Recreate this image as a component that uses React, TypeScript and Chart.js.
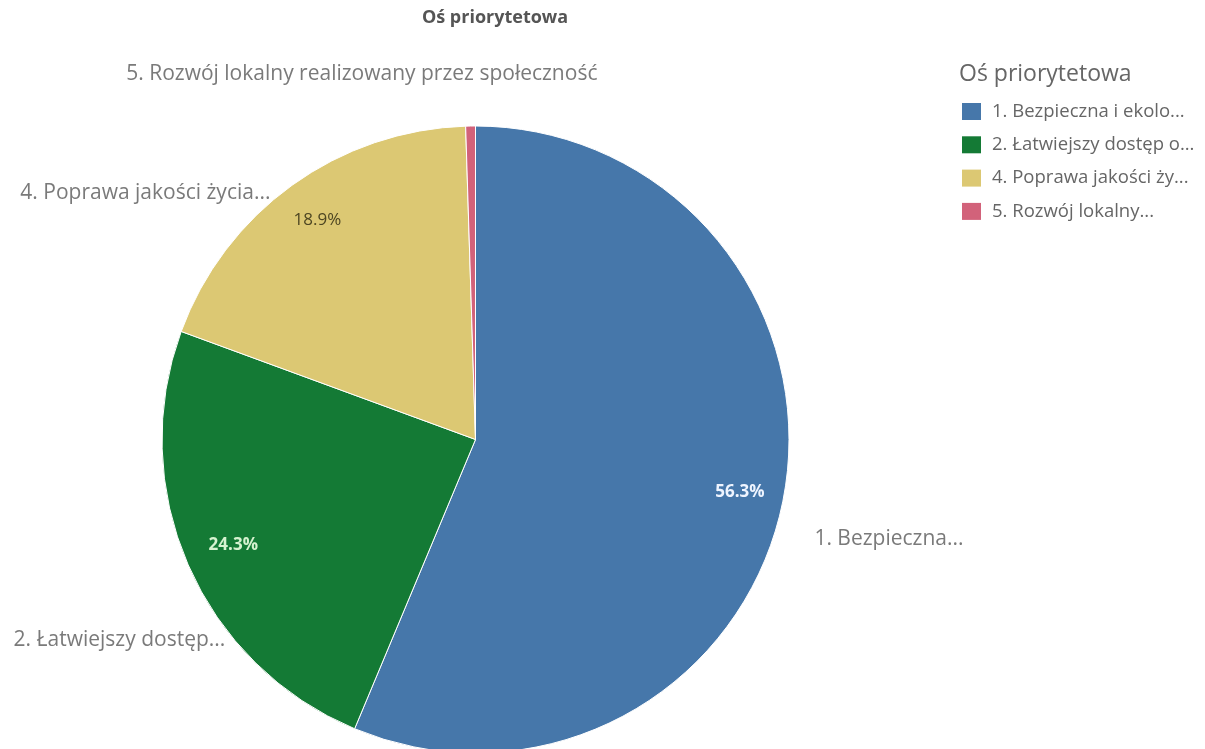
import React, { useEffect, useRef } from 'react';
import { Chart, registerables } from 'chart.js';

Chart.register(...registerables);

const chartTitle = 'Oś priorytetowa';
const legendTitle = 'Oś priorytetowa';
const values = [56.3, 24.3, 18.9, 0.5];
const sliceLabels = [
  '1. Bezpieczna...',
  '2. Łatwiejszy dostęp...',
  '4. Poprawa jakości życia...',
  '5. Rozwój lokalny realizowany przez społeczność',
];
const legendLabels = [
  '1. Bezpieczna i ekolo...',
  '2. Łatwiejszy dostęp o...',
  '4. Poprawa jakości ży...',
  '5. Rozwój lokalny...',
];
const percentLabels = ['56.3%', '24.3%', '18.9%', ''];

// styling / layout
const colors = ['#4677aa', '#147a35', '#dcc873', '#d2627a'];
const pctColors = ['#eef4ff', '#d6f2cf', '#4d4622', '#ffffff'];
const pctWeights = ['bold', 'bold', 'normal', 'normal'];
const pctRadius = [0.86, 0.843, 0.862, 0.86];
// outside label anchor offsets, in units of the pie radius, and text alignment
const labelAnchors: [number, number, CanvasTextAlign][] = [
  [1.081, 0.318, 'left'],
  [-0.798, 0.64, 'right'],
  [-0.654, -0.787, 'right'],
  [0.389, -1.166, 'right'],
];
const FONT = '"Open Sans", "DejaVu Sans", sans-serif';

const overlayPlugin = {
  id: 'overlay',
  afterDraw(chart: any) {
    const ctx = chart.ctx as CanvasRenderingContext2D;
    const meta = chart.getDatasetMeta(0);
    ctx.save();
    ctx.textBaseline = 'middle';

    // title
    ctx.font = `bold 18px ${FONT}`;
    ctx.fillStyle = '#555555';
    ctx.textAlign = 'center';
    ctx.fillText(chartTitle, 495, 18);

    meta.data.forEach((arc: any, i: number) => {
      const { x, y, startAngle, endAngle, outerRadius } = arc.getProps(
        ['x', 'y', 'startAngle', 'endAngle', 'outerRadius'],
        true
      );
      const mid = (startAngle + endAngle) / 2;
      // percent labels
      if (percentLabels[i]) {
        ctx.font = `${pctWeights[i]} 17px ${FONT}`;
        ctx.fillStyle = pctColors[i];
        ctx.textAlign = 'center';
        const r = outerRadius * pctRadius[i];
        ctx.fillText(percentLabels[i], x + Math.cos(mid) * r, y + Math.sin(mid) * r);
      }
      // outside labels
      const a = labelAnchors[i];
      ctx.font = `21px ${FONT}`;
      ctx.fillStyle = '#7a7a7a';
      ctx.textAlign = a[2];
      ctx.fillText(sliceLabels[i], x + a[0] * outerRadius, y + a[1] * outerRadius);
    });

    // legend
    ctx.textAlign = 'left';
    ctx.font = `23px ${FONT}`;
    ctx.fillStyle = '#666666';
    ctx.fillText(legendTitle, 959, 74);
    ctx.font = `18.5px ${FONT}`;
    legendLabels.forEach((lab, i) => {
      const yy = 111.5 + i * 33.3;
      ctx.fillStyle = colors[i];
      ctx.fillRect(962, yy - 8.5, 19, 17);
      ctx.fillStyle = '#666666';
      ctx.fillText(lab, 992, yy);
    });
    ctx.restore();
  },
};

export default function App() {
  const ref = useRef<HTMLCanvasElement>(null);
  useEffect(() => {
    if (!ref.current) return;
    const chart = new Chart(ref.current, {
      type: 'pie',
      data: {
        labels: legendLabels,
        datasets: [
          {
            data: values,
            backgroundColor: colors,
            borderColor: '#ffffff',
            borderWidth: 1,
          },
        ],
      },
      options: {
        responsive: false,
        animation: false,
        events: [],
        layout: { padding: { top: 125, left: 161.5, right: 415.5, bottom: 6 } },
        plugins: {
          legend: { display: false },
          title: { display: false },
          tooltip: { enabled: false },
        },
      },
      plugins: [overlayPlugin],
    });
    return () => chart.destroy();
  }, []);
  return (
    <div style={{ position: 'absolute', left: 0, top: 0, width: 1205, height: 749, overflow: 'hidden', background: '#fff' }}>
      <canvas ref={ref} width={1205} height={760} style={{ width: 1205, height: 760, display: 'block' }} />
    </div>
  );
}
